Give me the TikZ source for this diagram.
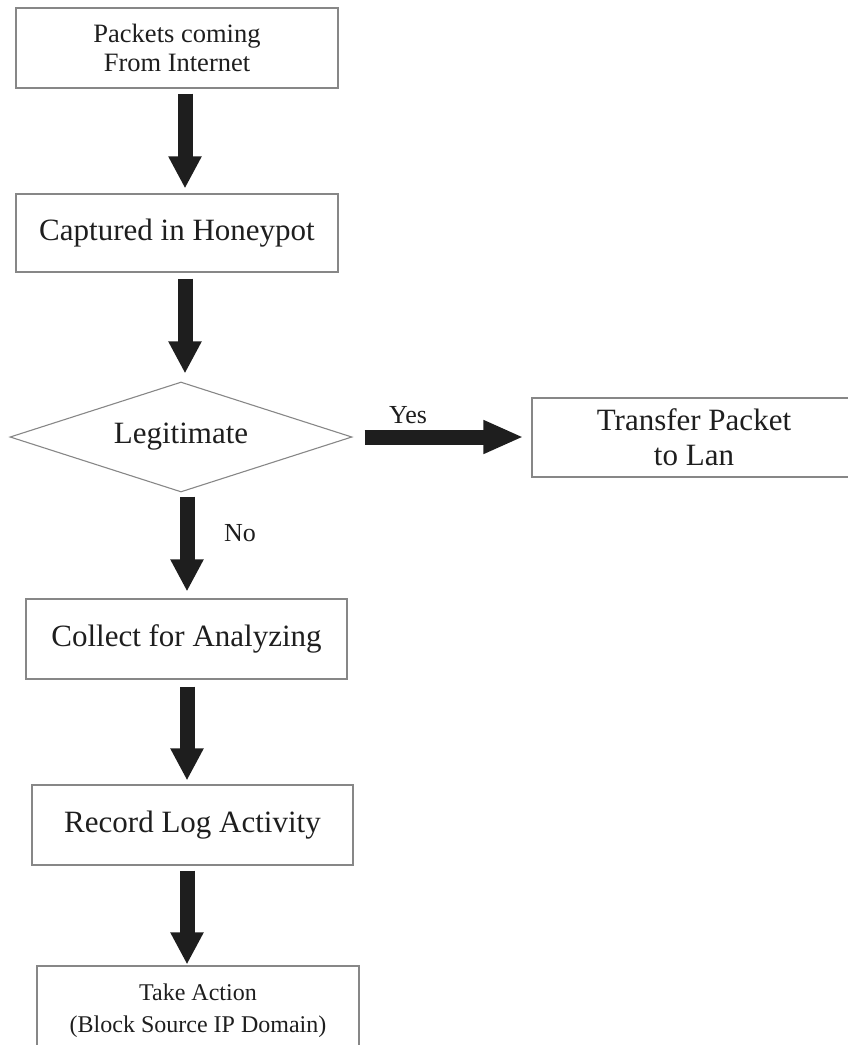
\documentclass[tikz,border=0pt]{standalone}
\usepackage{fontspec}
\setmainfont{Liberation Serif}
\usetikzlibrary{arrows.meta,shapes.geometric}
\definecolor{edgegray}{RGB}{135,135,135}
\definecolor{ink}{RGB}{30,30,30}
\begin{document}
\begin{tikzpicture}[x=1pt,y=-1pt,
  boxnode/.style={draw=edgegray,line width=1.1pt,inner sep=0pt,align=center,text=ink,
    font=\fontsize{31}{35}\selectfont},
  bigarrow/.style={draw=ink,line width=15pt,-{Triangle[width=31pt,length=32pt]}},
  lbl/.style={text=ink,inner sep=0pt,font=\fontsize{26}{30}\selectfont}]
\useasboundingbox (0,0) rectangle (848,1045);
\clip (0,0) rectangle (848,1045);
\node[boxnode,minimum width=322pt,minimum height=80pt,font=\fontsize{26.5}{29}\selectfont] (b1) at (177,48) {Packets coming\\From Internet};
\node[boxnode,minimum width=322pt,minimum height=78pt] (b2) at (177,233) {Captured in Honeypot};
\node[draw=edgegray,line width=1.1pt,diamond,inner sep=0pt,minimum width=342pt,minimum height=110pt] (dia) at (181,437) {};
\node[text=ink,inner sep=0pt,font=\fontsize{31}{35}\selectfont] (diatext) at (dia.center) {Legitimate};
\node[boxnode,minimum width=324pt,minimum height=79pt] (tr) at (694,437.5) {Transfer Packet\\to Lan};
\node[boxnode,minimum width=321pt,minimum height=80pt] (b3) at (186.5,639) {Collect for Analyzing};
\node[boxnode,minimum width=321pt,minimum height=80pt] (b4) at (192.5,825) {\raisebox{6pt}{Record Log Activity}};
\node[boxnode,minimum width=322pt,minimum height=90pt,font=\fontsize{24}{32}\selectfont] (b5) at (198,1011) {Take Action\\(Block Source IP Domain)};
\coordinate (xa) at (185,0);
\coordinate (xb) at (187,0);
\draw[bigarrow,shorten <=5pt,shorten >=5pt] (b1.south -| xa) -- (b2.north -| xa);
\draw[bigarrow,shorten <=6pt,shorten >=8pt] (b2.south -| xa) -- (dia.north -| xa);
\draw[bigarrow,shorten <=4pt,shorten >=7pt] (dia.south -| xb) -- (b3.north -| xb);
\draw[bigarrow,shorten <=7pt,shorten >=4pt] (b3.south -| xb) -- (b4.north -| xb);
\draw[bigarrow,shorten <=5pt,shorten >=1pt] (b4.south -| xb) -- (b5.north -| xb);
\draw[bigarrow,shorten <=12pt,shorten >=8pt,-{Triangle[width=31pt,length=40pt]}] (dia.east) -- (tr.west |- dia.east);
\node[lbl] (yes) at (408,415) {Yes};
\node[lbl] (no) at (240,533) {No};
\end{tikzpicture}
\end{document}
